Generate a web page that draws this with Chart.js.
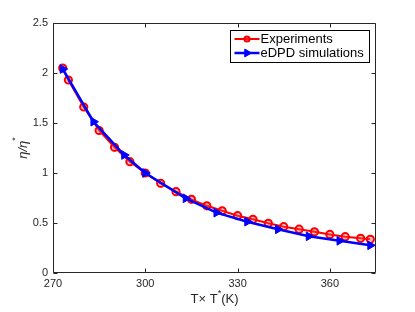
<!DOCTYPE html>
<html>
<head>
<meta charset="utf-8">
<script src="https://cdn.jsdelivr.net/npm/chart.js@4.4.1/dist/chart.umd.min.js"></script>
<style>
html,body{margin:0;padding:0;background:#fff;}
canvas{display:block;}
</style>
</head>
<body>
<canvas id="c" width="415" height="312"></canvas>
<script>
// ---- data ----
const expT = [273.15, 275, 280, 285, 290, 295, 300, 305, 310, 315, 320, 325, 330, 335, 340, 345, 350, 355, 360, 365, 370, 373.15];
const expEta = [2.05, 1.93, 1.66, 1.425, 1.257, 1.113, 1.0, 0.897, 0.813, 0.737, 0.672, 0.622, 0.573, 0.537, 0.497, 0.463, 0.438, 0.412, 0.386, 0.363, 0.347, 0.337];
const simT = [273.15, 283.15, 293.15, 300, 313.15, 323.15, 333.15, 343.15, 353.15, 363.15, 373.15];
const simEta = [2.04, 1.513, 1.18, 1.0, 0.747, 0.603, 0.513, 0.437, 0.367, 0.322, 0.277];
const xTicks = [270, 300, 330, 360];
const yTicks = [0, 0.5, 1, 1.5, 2, 2.5];
const seriesNames = ['Experiments', 'eDPD simulations'];

const FONT = '"Liberation Sans", Arial, Helvetica, sans-serif';
const AX = '#262626';

const boxPlugin = {
  id: 'box',
  afterDraw(chart) {
    const {ctx, chartArea: a, scales: {x, y}} = chart;
    ctx.save();
    ctx.strokeStyle = AX;
    ctx.lineWidth = 1;
    const L = Math.round(a.left) + 0.5, R = Math.round(a.right) - 0.5;
    const T = Math.round(a.top) + 0.5, B = Math.round(a.bottom) - 0.5;
    ctx.beginPath();
    ctx.rect(L, T, R - L, B - T);
    ctx.stroke();
    const tl = 4;
    ctx.beginPath();
    x.ticks.forEach(t => {
      const px = Math.round(x.getPixelForValue(t.value)) + 0.5;
      ctx.moveTo(px, B); ctx.lineTo(px, B - tl);
      ctx.moveTo(px, T); ctx.lineTo(px, T + tl);
    });
    y.ticks.forEach(t => {
      const py = Math.round(y.getPixelForValue(t.value)) + 0.5;
      ctx.moveTo(L, py); ctx.lineTo(L + tl, py);
      ctx.moveTo(R, py); ctx.lineTo(R - tl, py);
    });
    ctx.stroke();

    // x title: T× T*(K)
    ctx.fillStyle = AX;
    ctx.textBaseline = 'alphabetic';
    const p1 = 'T\u00d7 T', p3 = '(K)';
    ctx.font = '13px ' + FONT;
    const w1 = ctx.measureText(p1).width, w3 = ctx.measureText(p3).width;
    ctx.font = '9px ' + FONT;
    const w2 = ctx.measureText('*').width;
    let cx = (a.left + a.right) / 2 - (w1 + w2 + w3) / 2;
    const by = 303;
    ctx.textAlign = 'left';
    ctx.font = '13px ' + FONT;
    ctx.fillText(p1, cx, by);
    ctx.font = '9px ' + FONT;
    ctx.fillText('*', cx + w1, by - 7);
    ctx.font = '13px ' + FONT;
    ctx.fillText(p3, cx + w1 + w2, by);

    // y title: η/η*
    ctx.save();
    ctx.translate(27, (a.top + a.bottom) / 2);
    ctx.rotate(-Math.PI / 2);
    ctx.font = 'italic 13px ' + FONT;
    const q1 = '\u03b7/\u03b7';
    const wq = ctx.measureText(q1).width;
    ctx.font = '9px ' + FONT;
    const ws = ctx.measureText('*').width;
    ctx.font = 'italic 13px ' + FONT;
    ctx.fillText(q1, -(wq + ws) / 2, 0);
    ctx.font = '9px ' + FONT;
    ctx.fillText('*', -(wq + ws) / 2 + wq, -9);
    ctx.restore();

    // legend
    const lx = 230.5, ly = 30.5, lw = 139, lh = 32;
    ctx.fillStyle = '#fff';
    ctx.fillRect(lx, ly, lw, lh);
    ctx.strokeStyle = '#000';
    ctx.lineWidth = 1;
    ctx.strokeRect(lx, ly, lw, lh);
    chart.data.datasets.forEach((ds, i) => {
      const yy = ly + 8.5 + i * 14;
      ctx.strokeStyle = ds.borderColor;
      ctx.lineWidth = ds.borderWidth;
      ctx.beginPath();
      ctx.moveTo(lx + 4, yy); ctx.lineTo(lx + 29, yy);
      ctx.stroke();
      ctx.fillStyle = ds.pointBackgroundColor;
      ctx.strokeStyle = ds.pointBorderColor;
      ctx.lineWidth = ds.pointBorderWidth;
      Chart.helpers.drawPoint(ctx, {
        pointStyle: ds.pointStyle, rotation: ds.pointRotation || 0,
        radius: ds.legendRadius, borderWidth: ds.pointBorderWidth
      }, lx + 16.5, yy);
      ctx.fillStyle = '#000';
      ctx.font = '13px ' + FONT;
      ctx.textAlign = 'left';
      ctx.textBaseline = 'middle';
      ctx.fillText(ds.label, lx + 30, yy + 0.5);
    });
    ctx.restore();
  }
};

new Chart(document.getElementById('c'), {
  type: 'line',
  data: {
    datasets: [
      {
        label: seriesNames[0],
        data: expT.map((t, i) => ({x: t, y: expEta[i]})),
        borderColor: '#ff0000', borderWidth: 2,
        pointStyle: 'circle', pointRadius: 3.6, pointBorderWidth: 2,
        pointBorderColor: '#ff0000', pointBackgroundColor: 'rgba(255,80,80,0.35)',
        legendRadius: 2.6,
        tension: 0, order: 2
      },
      {
        label: seriesNames[1],
        data: simT.map((t, i) => ({x: t, y: simEta[i]})),
        borderColor: '#0000ff', borderWidth: 2.5,
        pointStyle: 'triangle', pointRotation: 90, pointRadius: 5, pointBorderWidth: 1,
        pointBorderColor: '#0000ff', pointBackgroundColor: '#0000ff',
        legendRadius: 4.5,
        tension: 0, order: 1
      }
    ]
  },
  options: {
    responsive: false,
    animation: false,
    layout: {padding: {top: 23, right: 39, left: 0, bottom: 0}},
    plugins: {legend: {display: false}, tooltip: {enabled: false}},
    scales: {
      x: {
        type: 'linear', min: 270, max: 375,
        afterBuildTicks: s => { s.ticks = xTicks.map(v => ({value: v})); },
        afterFit: s => { s.height = 39; },
        grid: {display: false, drawTicks: false},
        border: {display: false},
        ticks: {color: AX, font: {family: FONT, size: 11}, padding: 4, autoSkip: false, maxRotation: 0,
                callback: v => String(v)}
      },
      y: {
        type: 'linear', min: 0, max: 2.5,
        afterBuildTicks: s => { s.ticks = yTicks.map(v => ({value: v})); },
        afterFit: s => { s.width = 53; },
        grid: {display: false, drawTicks: false},
        border: {display: false},
        ticks: {color: AX, font: {family: FONT, size: 11}, padding: 5,
                callback: v => String(v)}
      }
    }
  },
  plugins: [boxPlugin]
});
</script>
</body>
</html>
